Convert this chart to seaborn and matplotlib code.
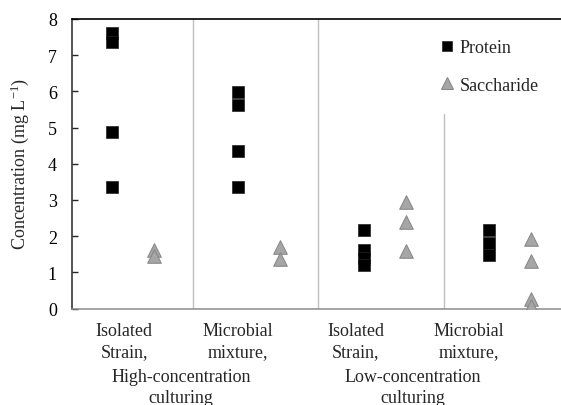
import numpy as np
import pandas as pd
import seaborn as sns
import matplotlib
matplotlib.use("Agg")
import matplotlib.pyplot as plt
from matplotlib.lines import Line2D

# Treatment groups (left to right) and their measured concentrations (mg/L)
groups = ["HC isolated", "HC mixture", "LC isolated", "LC mixture"]
protein = [
    [7.60, 7.36, 4.89, 3.37],
    [5.98, 5.63, 4.34, 3.37],
    [2.16, 1.62, 1.40, 1.19],
    [2.17, 1.80, 1.49],
]
saccharide = [
    [1.62, 1.46],
    [1.69, 1.38],
    [2.93, 2.38, 1.60],
    [1.92, 1.32, 0.26, 0.08],
]
group_labels = ["Isolated\nStrain,", "Microbial\nmixture,", "Isolated\nStrain,", "Microbial\nmixture,"]
culture_labels = ["High-concentration", "Low-concentration"]
series_names = ["Protein", "Saccharide"]

# Horizontal offset of each series inside its group slot
offsets = {"Protein": 0.36, "Saccharide": 0.695}

rows = []
for gi, g in enumerate(groups):
    for v in protein[gi]:
        rows.append({"x": gi + offsets["Protein"], "value": v, "series": "Protein"})
    for v in saccharide[gi]:
        rows.append({"x": gi + offsets["Saccharide"], "value": v, "series": "Saccharide"})
df = pd.DataFrame(rows)

sns.set_theme(style="white")
plt.rcParams["font.family"] = ["Liberation Serif", "DejaVu Serif"]
plt.rcParams["mathtext.fontset"] = "custom"
plt.rcParams["mathtext.rm"] = "Liberation Serif"
plt.rcParams["mathtext.it"] = "Liberation Serif:italic"

FS = 13
W, H = 561, 406
fig = plt.figure(figsize=(W / 100, H / 100), dpi=100)
left_px, right_px, top_px, bot_px = 71.5, 569.7, 20.0, 309.5
ax = fig.add_axes([left_px / W, 1 - bot_px / H, (right_px - left_px) / W, (bot_px - top_px) / H])

styles = {
    "Protein": dict(marker="s", s=70, color="black", edgecolor="#222222", linewidth=0.5),
    "Saccharide": dict(marker="^", s=95, color="#a6a6a6", edgecolor="#8a8a8a", linewidth=0.8),
}
for name in series_names:
    sub = df[df["series"] == name]
    sns.scatterplot(data=sub, x="x", y="value", ax=ax, legend=False, zorder=3, **styles[name])

ax.set_xlim(0.035, 4.0)
ax.set_ylim(0, 8)
ax.set_yticks(range(0, 9))
ax.set_xticks([])
ax.set_xlabel("")
ax.set_ylabel("")

# Group separators
sep_color = "#bfbfbf"
ax.axvline(1, color=sep_color, lw=1.0, zorder=1)
ax.axvline(2, color=sep_color, lw=1.0, zorder=1)
ax.plot([3, 3], [0, 5.37], color=sep_color, lw=1.0, zorder=1)

ax.spines["right"].set_visible(False)
ax.spines["top"].set_color("black")
ax.spines["top"].set_linewidth(1.2)
ax.spines["left"].set_color("#262626")
ax.spines["left"].set_linewidth(1.1)
ax.spines["bottom"].set_color("#8c8c8c")
ax.spines["bottom"].set_linewidth(1.1)

ax.tick_params(axis="y", direction="in", length=4, width=1.0, color="#262626",
               labelsize=FS, pad=10.5, left=True, labelcolor="black")
ax.tick_params(axis="x", bottom=False, labelbottom=False)

fig.text(19.5 / W, 1 - 164 / H, "Concentration (mg L$^{-1}$)", rotation=90,
         ha="center", va="center", fontsize=FS)

# Category labels under each group
label_x = [124, 237.5, 356, 469]
for lx, lab in zip(label_x, group_labels):
    l1, l2 = lab.split("\n")
    fig.text(lx / W, 1 - 336.5 / H, l1, ha="center", va="baseline", fontsize=FS)
    fig.text(lx / W, 1 - 357 / H, l2, ha="center", va="baseline", fontsize=FS)

for cx, lab in zip([181, 413], culture_labels):
    fig.text(cx / W, 1 - 382.5 / H, lab, ha="center", va="baseline", fontsize=FS)
    fig.text(cx / W, 1 - 403 / H, "culturing", ha="center", va="baseline", fontsize=FS)

handles = [
    Line2D([], [], linestyle="none", marker="s", markersize=7.3, color="black",
           markeredgecolor="#222222", markeredgewidth=0.5),
    Line2D([], [], linestyle="none", marker="^", markersize=8.3, color="#a6a6a6",
           markeredgecolor="#8a8a8a", markeredgewidth=0.8),
]
fig.legend(handles, series_names, loc="upper left",
           bbox_to_anchor=(440 / W, 1 - 40 / H), frameon=False, fontsize=FS,
           handlelength=0.75, handletextpad=0.35, labelspacing=1.15,
           borderpad=0, borderaxespad=0)

fig.savefig("out.png", dpi=100)
